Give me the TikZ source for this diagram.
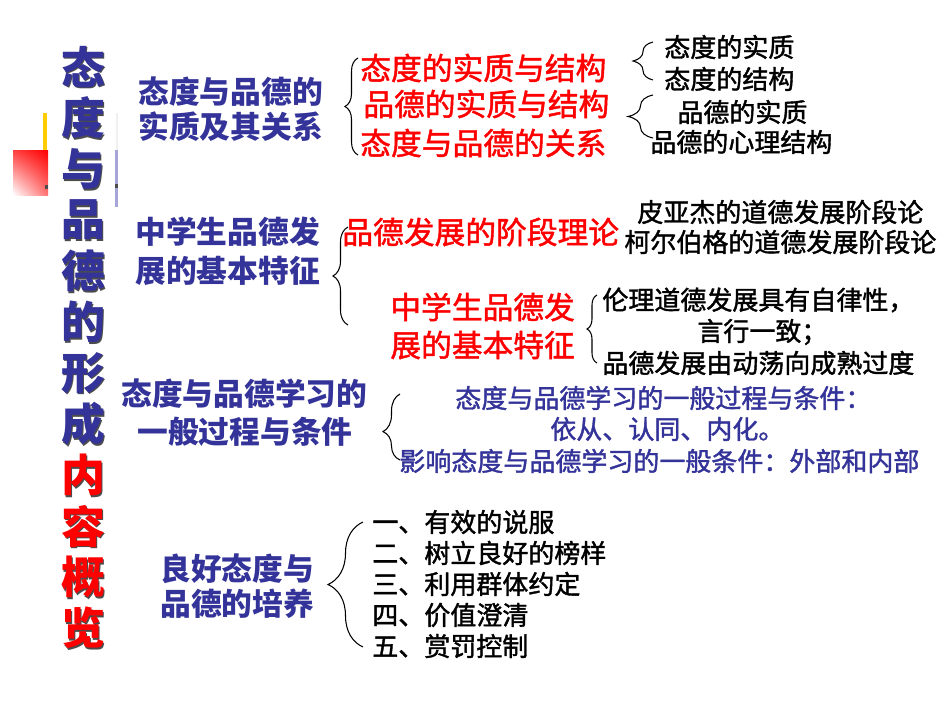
\documentclass[tikz,border=0pt]{standalone}
\usepackage{fontspec}
\newfontfamily\cjk{Noto Sans CJK SC}
\newfontfamily\cjkm[FakeBold=1.5]{Noto Sans CJK SC}
\usetikzlibrary{decorations.pathreplacing,shadings}
\definecolor{tiefblau}{RGB}{51,51,153}
\definecolor{lila}{RGB}{165,165,215}
\definecolor{gold}{RGB}{255,204,0}
\begin{document}
\begin{tikzpicture}[x=0.02cm,y=-0.02cm,
    ttl/.style={inner sep=0,font=\cjk\bfseries\fontsize{25}{25}\selectfont},
    hd/.style={anchor=west,inner sep=0,text=tiefblau,font=\cjk\bfseries\fontsize{17.5}{17.5}\selectfont},
    rd/.style={anchor=west,inner sep=0,text=red,font=\cjkm\fontsize{17.5}{17.5}\selectfont},
    sm/.style={anchor=west,inner sep=0,font=\cjkm\fontsize{14.8}{14.8}\selectfont},
    kl/.style={decorate,line width=0.6pt,decoration={brace,amplitude=#1}},
    kl/.default=0.26cm]
    \useasboundingbox (0,0) rectangle (950,713);

    % Randleiste
    \fill[gold] (43,113) rectangle (47,150);
    \shade[upper left=red!75,upper right=red,lower left=white,lower right=red!55] (13,150) rectangle (48,195);
    \fill[black!70] (45,185) rectangle (48,189);
    \fill[black!6] (116,113) rectangle (118,150);
    \fill[lila] (115,150) rectangle (118,207);
    \fill[black!70] (115,184) rectangle (118,188);

    % Titel
    \foreach \c/\f [count=\i] in {态/tiefblau,度/tiefblau,与/tiefblau,品/tiefblau,
        德/tiefblau,的/tiefblau,形/tiefblau,成/tiefblau,内/red,容/red,概/red,览/red}{
      \node[ttl,text=black!70] (ts\i) at (84.5,{68.5+51*(\i-1)}) {\c};
      \node[ttl,text=\f] (ti\i) at (83,{67+51*(\i-1)}) {\c};
    }

    % Teil 1
    \node[hd] (h1a) at (138,92) {态度与品德的};
    \node[hd] (h1b) at (138,127) {实质及其关系};
    \draw[kl] (358,155) -- (358,58);
    \node[rd] (r1) at (360,68) {态度的实质与结构};
    \node[rd] (r2) at (363,104) {品德的实质与结构};
    \node[rd] (r3) at (360,143) {态度与品德的关系};
    \draw[kl=0.4cm] (653,80) -- (653,42);
    \node[sm] (s1) at (664,47) {态度的实质};
    \node[sm] (s2) at (664,79) {态度的结构};
    \draw[kl=0.5cm] (653,138) -- (653,95);
    \node[sm] (s3) at (677,112) {品德的实质};
    \node[sm] (s4) at (650,142) {品德的心理结构};

    % Teil 2
    \node[hd] (h2a) at (135,232) {中学生品德发};
    \node[hd] (h2b) at (135,271) {展的基本特征};
    \draw[kl=0.3cm] (348,325) -- (348,227);
    \node[rd] (r4) at (342,232) {品德发展的阶段理论};
    \node[rd] (r5) at (390,307) {中学生品德发};
    \node[rd] (r6) at (390,345) {展的基本特征};
    \node[sm] (s5) at (637,212) {皮亚杰的道德发展阶段论};
    \node[sm] (s6) at (624,242) {柯尔伯格的道德发展阶段论};
    \draw[kl=0.2cm] (597,363) -- (597,295);
    \node[sm] (s7) at (602,300) {伦理道德发展具有自律性，};
    \node[sm] (s8) at (697,332) {言行一致；};
    \node[sm] (s9) at (602,363) {品德发展由动荡向成熟过度};

    % Teil 3
    \node[hd] (h3a) at (121,394) {态度与品德学习的};
    \node[hd] (h3b) at (137,432) {一般过程与条件};
    \draw[kl=0.34cm,decoration={aspect=0.43}] (400,460) -- (400,394);
    \node[sm,text=tiefblau] (b1) at (455,398) {态度与品德学习的一般过程与条件：};
    \node[sm,text=tiefblau] (b2) at (550,429) {依从、认同、内化。};
    \node[sm,text=tiefblau] (b3) at (399,461) {影响态度与品德学习的一般条件：外部和内部};

    % Teil 4
    \node[hd] (h4a) at (160,569) {良好态度与};
    \node[hd] (h4b) at (160,604) {品德的培养};
    \draw[kl=0.7cm] (363,647) -- (363,522);
    \foreach \t [count=\i] in {一、有效的说服,二、树立良好的榜样,三、利用群体约定,四、价值澄清,五、赏罚控制}{
      \node[sm] (p\i) at (372,{522+31*(\i-1)}) {\t};
    }
\end{tikzpicture}
\end{document}
